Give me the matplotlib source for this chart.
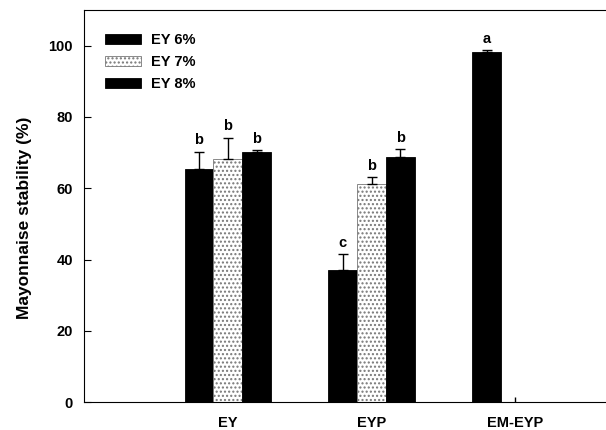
import numpy as np
import matplotlib
matplotlib.use("Agg")
import matplotlib.pyplot as plt

plt.rcParams['font.family'] = ['Liberation Sans', 'DejaVu Sans']
plt.rcParams['font.weight'] = 'bold'

# data
groups = ["EY", "EYP", "EM-EYP"]
series = ["EY 6%", "EY 7%", "EY 8%"]
ey6 = [65.4, 37.1, 98.3]
ey7 = [68.3, 61.3, 0.0]
ey8 = [70.3, 68.9, 0.0]
err6 = [4.9, 4.5, 0.4]
err7 = [5.9, 1.8, 1.5]
err8 = [0.5, 2.1, 0.0]
letters6 = ["b", "c", "a"]
letters7 = ["b", "b", ""]
letters8 = ["b", "b", ""]

values = [ey6, ey7, ey8]
errors = [err6, err7, err8]
letters = [letters6, letters7, letters8]
colors = ["black", "white", "black"]
hatches = [None, "....", None]
edges = ["black", "#777777", "black"]

fig = plt.figure(figsize=(6.06, 4.30), dpi=100)
ax = fig.add_axes([84 / 606, 1 - 402.3 / 430, 1 - 84 / 606, (402.3 - 10) / 430])

x = np.arange(len(groups))
w = 0.2
for i in range(3):
    pos = x + (i - 1) * w
    vals = np.array(values[i])
    errs = np.array(errors[i])
    show = vals > 0
    ax.bar(pos[show], vals[show], w, color=colors[i], edgecolor=edges[i],
           hatch=hatches[i], linewidth=0.6, label=series[i], zorder=2)
    ax.errorbar(pos[show], vals[show], yerr=[np.zeros(show.sum()), errs[show]],
                fmt="none", ecolor="black", elinewidth=1, capsize=3.5,
                capthick=1, zorder=3)
    # empty bars: only a tiny stub of the error bar is left
    empty = (~show) & (errs > 0)
    ax.vlines(pos[empty], 0, errs[empty], color="black", linewidth=1, zorder=3)
    for p, v, e, t in zip(pos, vals, errs, letters[i]):
        if t:
            ax.text(p, v + e + 1.2, t, ha="center", va="bottom",
                    fontsize=10.5, fontweight="bold")

ax.set_xlim(-1.0, 2.63)
ax.set_ylim(0, 110)
ax.set_yticks([0, 20, 40, 60, 80, 100])
ax.set_xticks(x)
ax.set_xticklabels(groups, fontsize=10.5, fontweight="bold")
ax.tick_params(axis="x", length=0, pad=10)
ax.tick_params(axis="y", direction="in", length=5, labelsize=10.5, pad=8)
for lab in ax.get_yticklabels():
    lab.set_fontweight("bold")
ax.spines["right"].set_visible(False)
ax.set_ylabel("Mayonnaise stability (%)", fontsize=12.5, fontweight="bold")
ax.yaxis.set_label_coords(-0.1, 0.47)

ax.legend(loc="upper left", frameon=False, handlelength=2.5,
          handleheight=0.75, labelspacing=0.55, handletextpad=0.65,
          bbox_to_anchor=(0.015, 0.975), prop={"weight": "bold", "size": 10.5})

fig.savefig("out.png", dpi=100)
